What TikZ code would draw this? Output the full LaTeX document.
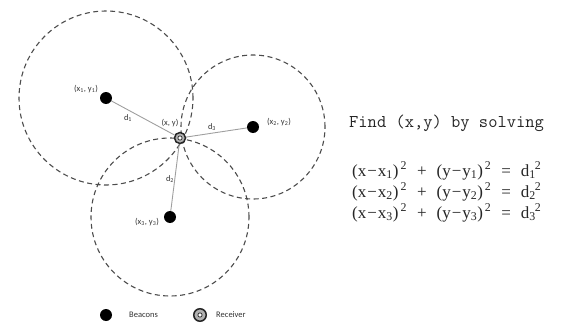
\documentclass[tikz,border=0pt]{standalone}
\usepackage{fontspec}
\setmainfont{Liberation Serif}
\newfontfamily\tagfont{Carlito}
\usetikzlibrary{positioning}
\pgfdeclarelayer{back}
\pgfsetlayers{back,main}

\tikzset{
  beacon/.style={circle, fill=black, minimum size=12pt, inner sep=0pt},
  receiver/.style={circle, draw=black!85, line width=1.5pt, fill=gray!60,
    minimum size=11pt, inner sep=0pt,
    path picture={\draw[black!80, line width=0.8pt, fill=white]
      (path picture bounding box.center) circle (2.1pt);}},
  rangering/.style={dash pattern=on 5pt off 3.5pt, line width=1.1pt, black!70},
  link/.style={gray!75, line width=0.9pt},
  tag/.style={font=\tagfont\fontsize{8.5}{10}\selectfont, inner sep=1pt, text=black!80},
  eqn/.style={anchor=west, inner sep=0pt, text=black!85,
    font=\fontsize{17}{20}\selectfont},
}

\begin{document}
\begin{tikzpicture}[x=1pt, y=-1pt]
  \useasboundingbox (0,0) rectangle (563,324);

  %% beacons and the receiver
  \node[beacon]   (b1) at (106,98)  {};
  \node[beacon]   (b2) at (253,127) {};
  \node[beacon]   (b3) at (170,217) {};
  \node[receiver] (rx) at (180,138) {};

  %% ranges and distances
  \begin{pgfonlayer}{back}
    \draw[rangering] (b1.center) circle (87pt);
    \draw[rangering] (b2.center) circle (72pt);
    \draw[rangering] (b3.center) circle (79pt);
    \draw[link] (b1) -- (rx);
    \draw[link] (b2) -- (rx);
    \draw[link] (b3) -- (rx);
  \end{pgfonlayer}

  %% labels
  \node[tag] (l1) at (86,89)   {(x\textsubscript{1}, y\textsubscript{1})};
  \node[tag] (l2) at (279,122) {(x\textsubscript{2}, y\textsubscript{2})};
  \node[tag] (l3) at (147,222) {(x\textsubscript{3}, y\textsubscript{3})};
  \node[tag] (lr) at (170,123) {(x, y)};
  \node[tag] (d1) at (128,118) {d\textsubscript{1}};
  \node[tag] (d3) at (212,127) {d\textsubscript{3}};
  \node[tag] (d2) at (170,179) {d\textsubscript{2}};

  %% legend
  \node[beacon] (keyb) at (106,315) {};
  \node[tag, anchor=west] (keybt) at (128,315) {Beacons};
  \node[receiver, minimum size=12.5pt] (keyr) at (200,315) {};
  \node[tag, anchor=west] (keyrt) at (215,315) {Receiver};

  %% equations
  \node[anchor=west, inner sep=0pt, text=black!85,
        font=\ttfamily\fontsize{18}{20}\selectfont\addfontfeatures{LetterSpace=2}]
    (find) at (349,123) {Find (x,y) by solving};
  \node[eqn] (e1) at (352,171)
    {(x\kern1pt−\kern1ptx\textsubscript{1})\kern2pt\textsuperscript{2}\hspace{10pt}+\hspace{10pt}(y\kern1pt−\kern1pty\textsubscript{1})\kern2pt\textsuperscript{2}\hspace{10pt}=\hspace{10pt}d\textsubscript{1}\kern-1pt\textsuperscript{2}};
  \node[eqn] (e2) at (352,192)
    {(x\kern1pt−\kern1ptx\textsubscript{2})\kern2pt\textsuperscript{2}\hspace{10pt}+\hspace{10pt}(y\kern1pt−\kern1pty\textsubscript{2})\kern2pt\textsuperscript{2}\hspace{10pt}=\hspace{10pt}d\textsubscript{2}\kern-1pt\textsuperscript{2}};
  \node[eqn] (e3) at (352,213)
    {(x\kern1pt−\kern1ptx\textsubscript{3})\kern2pt\textsuperscript{2}\hspace{10pt}+\hspace{10pt}(y\kern1pt−\kern1pty\textsubscript{3})\kern2pt\textsuperscript{2}\hspace{10pt}=\hspace{10pt}d\textsubscript{3}\kern-1pt\textsuperscript{2}};
\end{tikzpicture}
\end{document}
